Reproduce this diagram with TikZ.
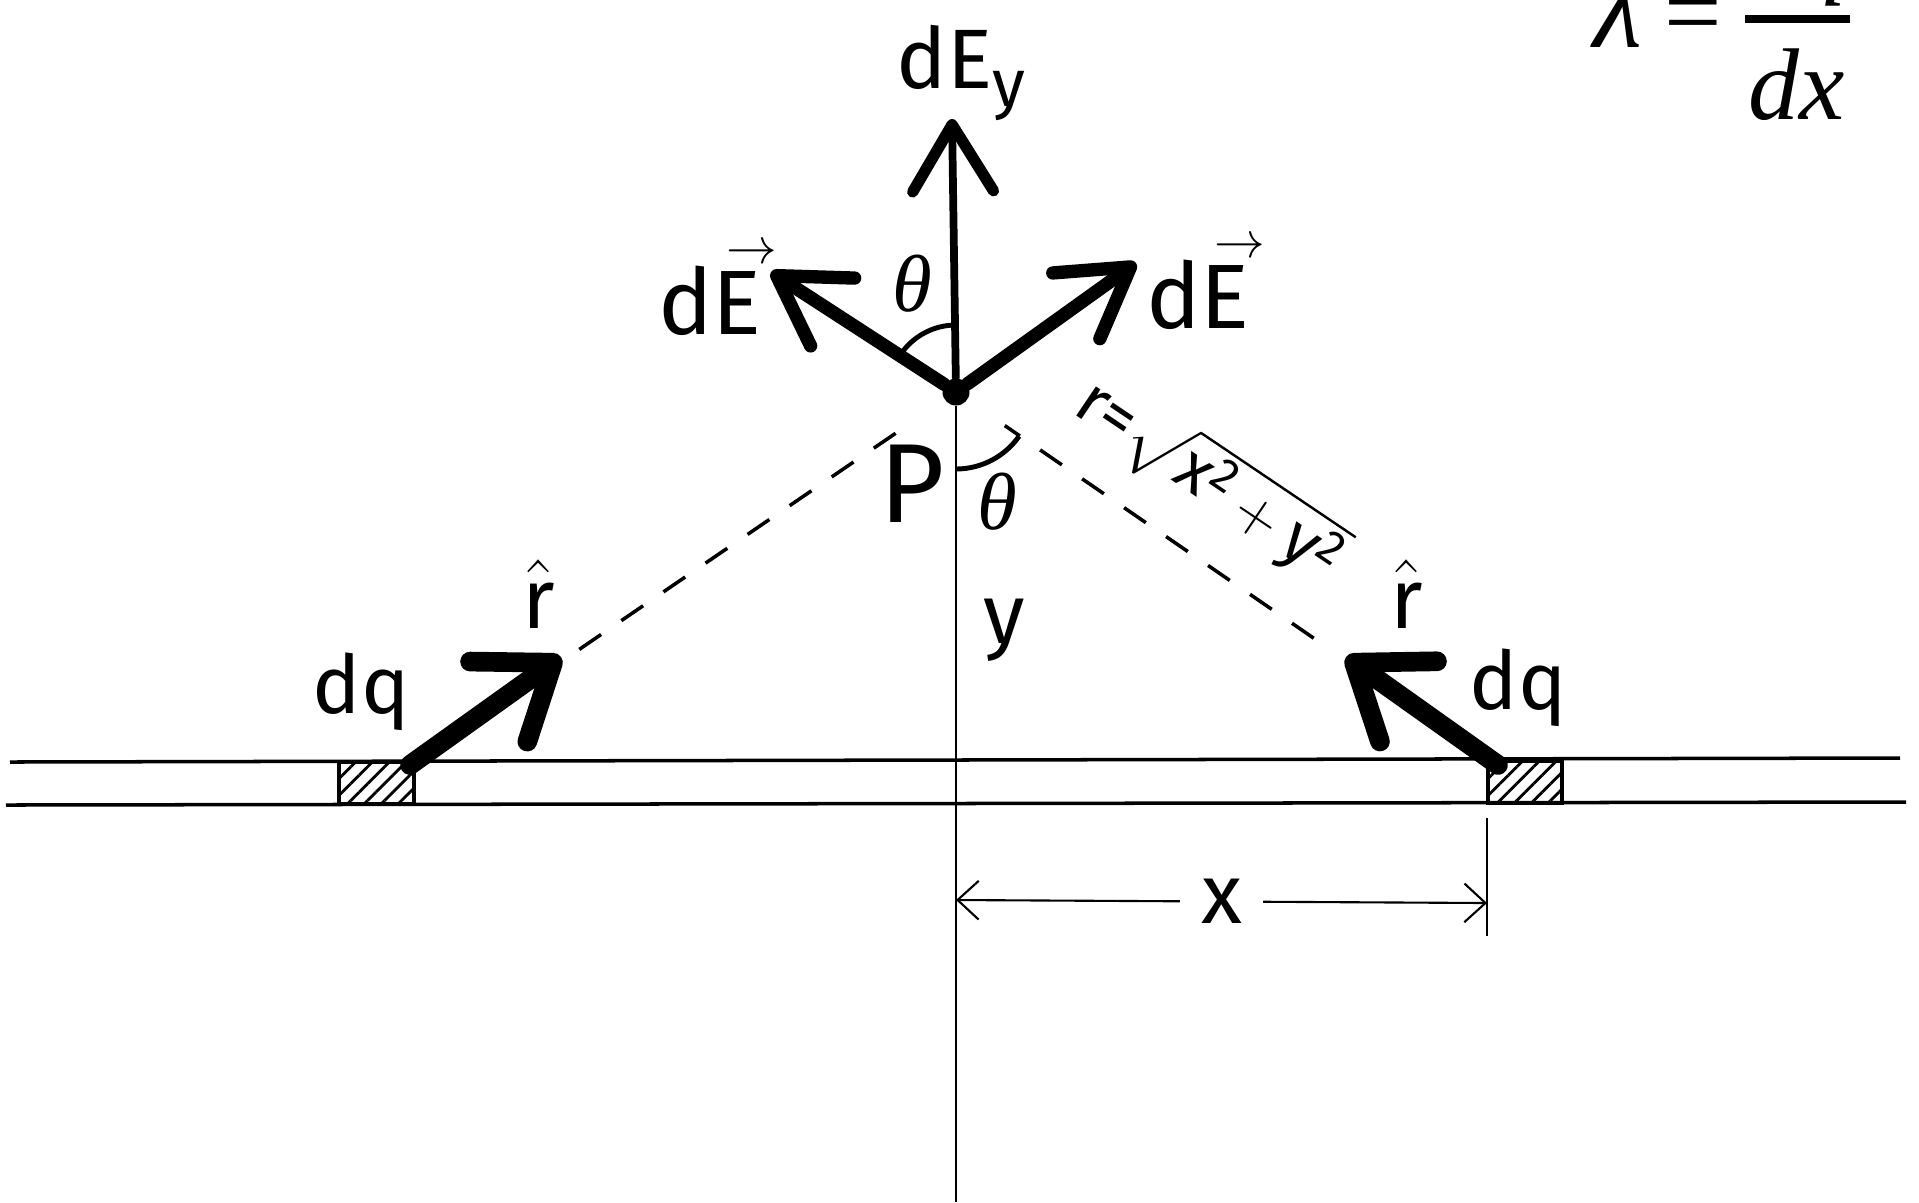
\documentclass[tikz,border=0pt]{standalone}
\usepackage{amsmath}
\usepackage{fontspec}
\setsansfont{Fira Sans}
\newfontfamily\timesfont{Liberation Serif}
\newcommand\tms{\timesfont\itshape}
\newcommand\vecE{\rlap{\kern4pt\raisebox{0.78em}{\fontsize{15}{15}\selectfont$\rightarrow$}}E}
\usetikzlibrary{arrows.meta,patterns.meta,calc}

\begin{document}
\begin{tikzpicture}[x=0.1mm,y=-0.1mm,
  hand/.style={font=\sffamily\fontsize{20}{24}\selectfont,inner sep=1pt},
  greek/.style={font=\tms\fontsize{23}{27}\selectfont,inner sep=0pt},
  serif/.style={font=\timesfont\fontsize{29}{33}\selectfont,inner sep=0pt,anchor=base},
  thin line/.style={line width=0.6pt},
  rod/.style={line width=1pt},
  guide/.style={line width=1pt,dash pattern=on 7.5pt off 7pt},
  vec/.style={line width=3.8pt,line cap=round,
    -{Straight Barb[round,length=19pt,width=23pt]}},
  yvec/.style={line width=2.2pt,line cap=round,
    -{Straight Barb[round,length=19pt,width=23pt,line width=3.2pt]}},
  unit/.style={line width=5.6pt,line cap=round,
    -{Straight Barb[round,length=19pt,width=28pt]}},
  dim/.style={thin line,{Straight Barb[length=6pt,width=11pt]}-{Straight Barb[length=6pt,width=11pt]}},
  hatch/.style={draw,line width=1pt,pattern={Lines[angle=45,distance=3.4pt,line width=0.8pt]}}]
\useasboundingbox (0,0) rectangle (1919,1202);
\clip (0,0) rectangle (1919,1202);
% points
\node[circle,fill,inner sep=0pt,minimum size=2.7mm] (P) at (956,392) {};
\coordinate (Ey) at (952,119);
\coordinate (EL) at (771,272);
\coordinate (ER) at (1136,263);
\coordinate (qL) at (410,765);
\coordinate (qR) at (1498,765);
\coordinate (rL) at (561,657);
\coordinate (rR) at (1346,657);
\coordinate (base) at (956,1202);
\coordinate (xa) at (956,900);
\coordinate (xb) at (1487,903);
\coordinate (xt) at (1487,818);
\coordinate (xe) at (1487,936);
% rod
\draw[rod] (10,762) -- (1900,758);
\draw[rod] (6,805) -- (1906,802);
\draw[hatch] (339,762) rectangle (414,804);
\draw[hatch] (1488,761) rectangle (1562,803);
% axis and lines of sight
\draw[thin line] (P) -- (base);
\draw[guide] ($(qL)!0.31!(P)$) -- ($(qL)!0.92!(P)$);
\draw[guide] ($(qR)!0.34!(P)$) -- ($(qR)!0.91!(P)$);
% vectors
\draw[yvec] (P) -- (Ey);
\draw[vec] (P) -- (EL);
\draw[vec] (P) -- (ER);
\draw[unit] (qL) -- (rL);
\draw[unit] (qR) -- (rR);
% angles
\draw[line width=1.4pt] (P) ++(-90:67) arc[start angle=-90,end angle=-147,radius=67];
\draw[line width=1.4pt] (P) ++(90:77) arc[start angle=90,end angle=35,radius=77];
% dimension
\draw[thin line] (xt) -- (xe);
\draw[dim] (xa) -- node[hand,fill=white,inner sep=6pt,font=\sffamily\fontsize{24}{28}\selectfont] (xlab) {x} (xb);
% labels
\node[hand,font=\sffamily\fontsize{24}{28}\selectfont] (Eylab) at (961,73)
  {dE\raisebox{-0.22em}{\fontsize{19}{19}\selectfont y}};
\node[hand,font=\sffamily\fontsize{26}{30}\selectfont] (ELlab) at (710,290) {d\vecE};
\node[hand,font=\sffamily\fontsize{26}{30}\selectfont] (ERlab) at (1198,284) {d\vecE};
\node[greek] (th1) at (912,284) {θ};
\node[greek] (th2) at (997,502) {θ};
\node[hand,font=\sffamily\fontsize{32}{36}\selectfont] (Plab) at (912,484) {P};
\node[hand,font=\sffamily\fontsize{24}{28}\selectfont] (ylab) at (1004,630) {y};
\node[hand,font=\sffamily\fontsize{24}{28}\selectfont] (rLlab) at (539,594) {$\hat{\mathsf{r}}$};
\node[hand,font=\sffamily\fontsize{24}{28}\selectfont] (rRlab) at (1407,594) {$\hat{\mathsf{r}}$};
\node[hand,font=\sffamily\fontsize{23}{27}\selectfont] (qLlab) at (361,692) {dq};
\node[hand,font=\sffamily\fontsize{23}{27}\selectfont] (qRlab) at (1518,688) {dq};
\node[hand,font=\sffamily\fontsize{19}{23}\selectfont,rotate=-34] (rlab) at (1210,480)
  {r=$\sqrt{\textsf{x}^{\textsf{2}}+\textsf{y}^{\textsf{2}}}$};
% density
\node[serif,font=\tms\fontsize{32}{36}\selectfont] (lam) at (1618,47) {λ};
\node[serif,anchor=center] (eq) at (1693,23) {=};
\node[serif,font=\tms\fontsize{29}{33}\selectfont] (num) at (1797,-16) {dq};
\node[serif,font=\tms\fontsize{29}{33}\selectfont] (den) at (1797,119) {dx};
\draw[line width=2pt] (1745,19) -- (1850,19);
\end{tikzpicture}
\end{document}
